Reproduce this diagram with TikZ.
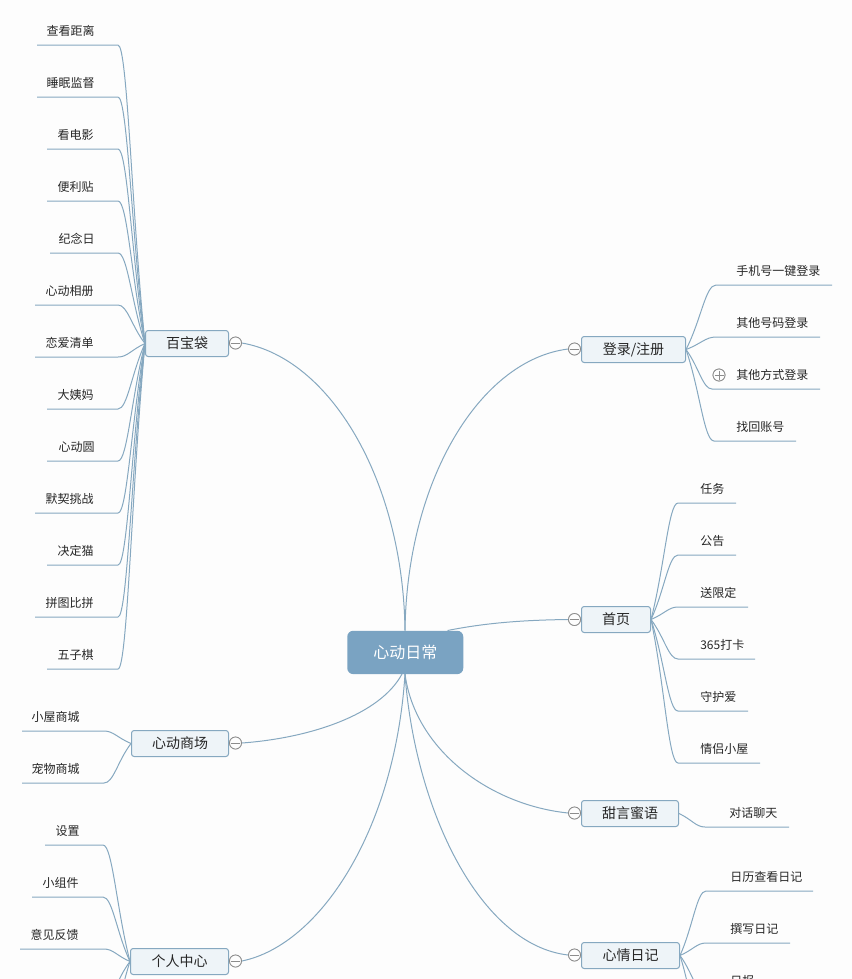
\documentclass[tikz,border=0pt]{standalone}
\usepackage{fontspec}
\setmainfont{Noto Sans CJK SC}
\usetikzlibrary{calc}
\definecolor{linec}{HTML}{86A8C0}
\definecolor{rootc}{HTML}{7AA3C2}
\definecolor{boxf}{HTML}{EEF4F8}
\definecolor{boxd}{HTML}{86A8C0}
\definecolor{bgc}{HTML}{FDFDFD}
\definecolor{circ}{HTML}{8C8C8C}
\tikzset{
  x=0.75pt,y=-0.75pt,
  conn/.style={draw=linec,line width=0.75pt},
  rootnode/.style={fill=rootc,rounded corners=4.5pt,text=white,font=\fontsize{12}{14}\selectfont,inner sep=0pt,anchor=north west},
  mainbox/.style={draw=boxd,fill=boxf,line width=0.75pt,rounded corners=2pt,text=black!85,font=\fontsize{10.5}{12}\selectfont,inner sep=0pt,minimum height=19.5pt,anchor=north west},
  leaftext/.style={text=black!85,font=\fontsize{9}{11}\selectfont,inner sep=0pt},
  toggle/.style={circle,draw=circ,fill=bgc,line width=0.6pt,minimum size=9pt,inner sep=0pt},
}
% #1 id, #2 text, #3 anchor, #4 text x, #5 text y, #6 line y, #7 far x, #8 near x, #9 parent anchor
\newcommand{\leafitem}[9]{%
  \node[leaftext,anchor=#3] (#1) at (#4,#5) {#2};
  \coordinate (#1-f) at (#7,#6);
  \coordinate (#1-n) at (#8,#6);
  \draw[conn] let \p1=(#1-n),\p2=(#9) in (#1-f) -- (#1-n) .. controls ({\x1+0.35*(\x2-\x1)},\y1) and ({\x1+0.5*(\x2-\x1)},{\y1+0.55*(\y2-\y1)}) .. (#9);
}
\newcommand{\freeleaf}[4]{%
  \coordinate (#1-n) at (#3,#2);
  \coordinate (#1-f) at (#4,#2);
  \draw[conn] let \p1=(#1-n),\p2=(#1-p) in (#1-f) -- (#1-n) .. controls ({\x1+0.35*(\x2-\x1)},\y1) and ({\x1+0.5*(\x2-\x1)},{\y1+0.55*(\y2-\y1)}) .. (#1-p);
}
\newcommand{\togglemark}[1]{%
  \draw[circ,line width=0.6pt] ($(#1.center)+(-4.5,0)$) -- ($(#1.center)+(4.5,0)$);
}
\begin{document}
\begin{tikzpicture}
\useasboundingbox (0,0) rectangle (852,979);
\clip (0,0) rectangle (852,979);
\fill[bgc] (0,0) rectangle (852,979);

% root
\node[rootnode,minimum width=87pt,minimum height=32.5pt] (root) at (347,630.5) {\raisebox{1.5pt}{心动日常}};
\coordinate (rt) at (405,630.5);
\coordinate (rb) at (405,674);

% main boxes
\node[mainbox,minimum width=62.25pt] (bb) at (145,330) {百宝袋};
\node[mainbox,minimum width=72.75pt] (sc) at (131,730) {心动商场};
\node[mainbox,minimum width=73.5pt] (gr) at (130,948) {个人中心};
\node[mainbox,minimum width=78pt] (dl) at (581,336) {登录/注册};
\node[mainbox,minimum width=51.75pt] (sy) at (581,606) {首页};
\node[mainbox,minimum width=72.75pt] (ty) at (581,800) {甜言蜜语};
\node[mainbox,minimum width=73.5pt] (xq) at (581,942) {心情日记};

% toggles
\node[toggle] (tbb) at (235.5,343) {};
\node[toggle] (tsc) at (235.5,743) {};
\node[toggle] (tgr) at (235.5,961) {};
\node[toggle] (tdl) at (574.5,349) {};
\node[toggle] (tsy) at (574.5,619.5) {};
\node[toggle] (tty) at (574.5,813) {};
\node[toggle] (txq) at (574.5,955) {};
\node[toggle] (tqt) at (719,375) {};

% root connectors
\draw[conn] (rt) .. controls (403,480) and (330,358) .. (tbb.east);
\draw[conn] (rt) .. controls (407,480) and (480,360) .. (tdl.west);
\draw[conn] (root.north east) ++(-16,0) coordinate (sya) (sya) .. controls (490,622) and (530,620) .. (tsy.west);
\draw[conn] (rb) .. controls (415,750) and (490,805) .. (tty.west);
\draw[conn] (rb) .. controls (415,810) and (480,945) .. (txq.west);
\draw[conn] (rb) .. controls (395,830) and (320,945) .. (tgr.east);
\draw[conn] (402,674) coordinate (rbs) (rbs) .. controls (380,715) and (310,738) .. (tsc.east);

% toggles repaint and marks
\foreach \t in {tbb,tsc,tgr,tdl,tsy,tty,txq,tqt}{\node[toggle] at (\t) {};\togglemark{\t}}
\draw[circ,line width=0.6pt] ($(tqt.center)+(0,-4.5)$) -- ($(tqt.center)+(0,4.5)$);

% 百宝袋
\leafitem{a1}{查看距离}{east}{95}{31}{45}{37}{118}{bb.west}
\leafitem{a2}{睡眠监督}{east}{95}{83}{97}{37}{118}{bb.west}
\leafitem{a3}{看电影}{east}{94}{135}{149}{47}{118}{bb.west}
\leafitem{a4}{便利贴}{east}{94}{187}{201}{47}{118}{bb.west}
\leafitem{a5}{纪念日}{east}{95}{239}{253}{50}{118}{bb.west}
\leafitem{a6}{心动相册}{east}{94}{291}{305}{35}{118}{bb.west}
\leafitem{a7}{恋爱清单}{east}{94}{343}{357}{35}{118}{bb.west}
\leafitem{a8}{大姨妈}{east}{94}{395}{409}{47}{118}{bb.west}
\leafitem{a9}{心动圆}{east}{95}{447}{461}{47}{118}{bb.west}
\leafitem{a10}{默契挑战}{east}{94}{499}{513}{35}{118}{bb.west}
\leafitem{a11}{决定猫}{east}{94}{551}{565}{47}{118}{bb.west}
\leafitem{a12}{拼图比拼}{east}{94}{603}{617}{35}{118}{bb.west}
\leafitem{a13}{五子棋}{east}{94}{655}{669}{47}{118}{bb.west}

% 心动商场
\leafitem{b1}{小屋商城}{east}{80}{717}{731}{22}{104}{sc.west}
\leafitem{b2}{宠物商城}{east}{80}{769}{783}{22}{104}{sc.west}

% 个人中心
\leafitem{c1}{设置}{east}{80}{831}{845}{45}{103}{gr.west}
\leafitem{c2}{小组件}{east}{79}{883}{897}{32}{103}{gr.west}
\leafitem{c3}{意见反馈}{east}{79}{935}{949}{20}{104}{gr.west}
\coordinate (c4-p) at (gr.west);
\coordinate (c5-p) at (gr.west);
\freeleaf{c4}{1001}{103}{20}
\freeleaf{c5}{1053}{103}{20}

% 登录/注册
\leafitem{d1}{手机号一键登录}{west}{736}{271}{285}{832}{716}{dl.east}
\leafitem{d2}{其他号码登录}{west}{736}{323}{337}{820}{716}{dl.east}
\leafitem{d3}{其他方式登录}{west}{736}{375}{389}{820}{712}{dl.east}
\leafitem{d4}{找回账号}{west}{736}{427}{441}{796}{714}{dl.east}

% 首页
\leafitem{e1}{任务}{west}{700}{489}{503}{736}{678}{sy.east}
\leafitem{e2}{公告}{west}{700}{541}{555}{736}{678}{sy.east}
\leafitem{e3}{送限定}{west}{700}{593}{607}{748}{678}{sy.east}
\leafitem{e4}{365打卡}{west}{700}{645}{659}{755}{678}{sy.east}
\leafitem{e5}{守护爱}{west}{700}{697}{711}{748}{678}{sy.east}
\leafitem{e6}{情侣小屋}{west}{700}{749}{763}{760}{678}{sy.east}

% 甜言蜜语
\leafitem{f1}{对话聊天}{west}{729}{813}{827}{789}{705}{ty.east}

% 心情日记
\leafitem{g1}{日历查看日记}{west}{730}{877}{891}{813}{706}{xq.east}
\leafitem{g2}{撰写日记}{west}{730}{929}{943}{790}{706}{xq.east}
\leafitem{g3}{日报}{west}{730}{981}{995}{790}{706}{xq.east}
\coordinate (g4-p) at (xq.east);
\freeleaf{g4}{1047}{706}{790}
\end{tikzpicture}
\end{document}
